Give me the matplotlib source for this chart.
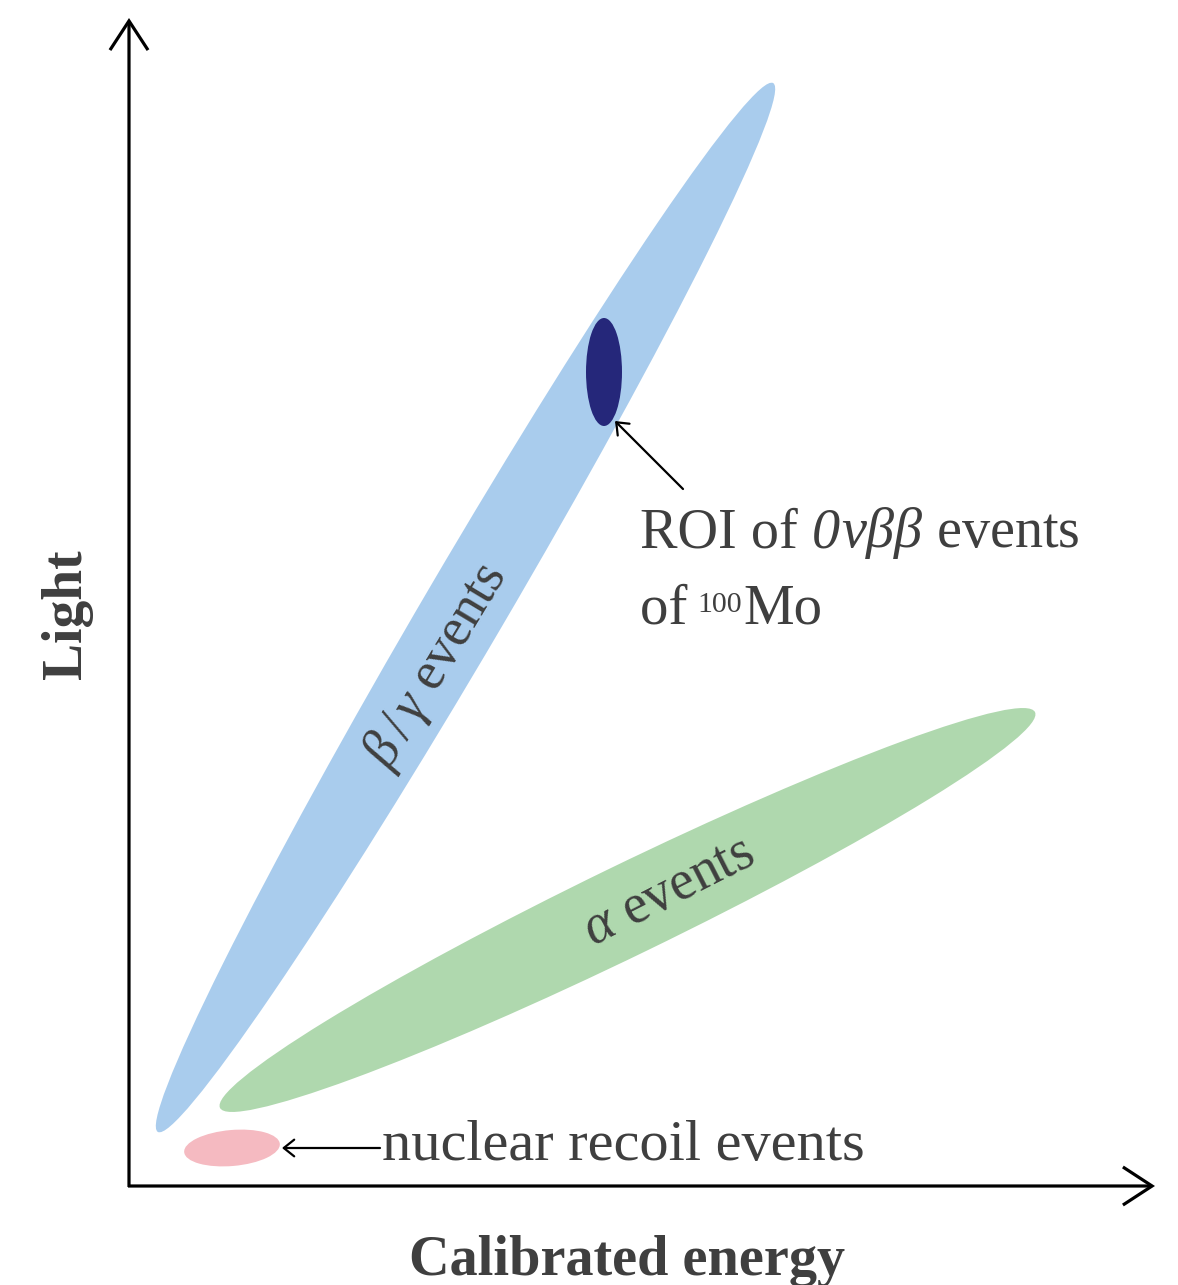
import matplotlib
matplotlib.use("Agg")
import matplotlib.pyplot as plt
from matplotlib.patches import Ellipse

plt.rcParams['font.family'] = ['Liberation Serif', 'DejaVu Serif']
plt.rcParams['mathtext.fontset'] = 'custom'
plt.rcParams['mathtext.rm'] = 'Liberation Serif'
plt.rcParams['mathtext.it'] = 'Liberation Serif:italic'
plt.rcParams['mathtext.bf'] = 'Liberation Serif:bold'
plt.rcParams['mathtext.fallback'] = 'stix'

# ---- data (energy / light units, origin at the axis corner) ----
region_names = ['beta_gamma', 'alpha', 'nuclear_recoil', 'roi']
region_energy = [336.5, 498.5, 103.0, 475.0]     # ellipse centre, x
region_light = [578.5, 276.0, 38.0, 814.0]       # ellipse centre, y
region_length = [1216.0, 906.0, 96.0, 36.0]      # extent along angle
region_thick = [82.0, 90.0, 36.0, 108.0]         # extent across
region_angle = [59.6, 25.9, 5.0, 0.0]            # degrees
region_colors = ['#a9cced', '#afd8ae', '#f5bac1', '#25277a']

x_label = 'Calibrated energy'
y_label = 'Light'
x_axis_end = 1026.0
y_axis_end = 1168.0

TEXT = '#3f3f3f'

fig = plt.figure(figsize=(11.78, 12.85), dpi=100)
ax = fig.add_axes([0, 0, 1, 1])
ax.set_xlim(-129, 1049)
ax.set_ylim(-99, 1186)
ax.axis('off')

for e, l, w, h, a, c in zip(region_energy, region_light, region_length,
                            region_thick, region_angle, region_colors):
    ax.add_patch(Ellipse((e, l), w, h, angle=a, facecolor=c,
                         edgecolor='none', lw=0, zorder=2))

# axes arrows
axis_style = dict(arrowstyle='->,head_length=21,head_width=13.7', lw=2.3,
                  color='black', mutation_scale=1, shrinkA=0, shrinkB=0,
                  joinstyle='miter', capstyle='butt')
ax.annotate('', xy=(0, y_axis_end), xytext=(0, -1), arrowprops=axis_style,
            zorder=5)
ax.annotate('', xy=(x_axis_end, 0), xytext=(-1, 0), arrowprops=axis_style,
            zorder=5)

ax.text(498, -89, x_label, ha='center', va='baseline', fontsize=40.5,
        fontweight='bold', color=TEXT)
ax.text(-62, 572, y_label, ha='center', va='center', fontsize=40,
        fontweight='bold', color=TEXT, rotation=90)

# region labels
ax.text(307, 520, r'$\beta\,/\,\gamma$ events', ha='center', va='center',
        rotation=59, rotation_mode='anchor', fontsize=39, color=TEXT, zorder=4)
ax.text(540, 294, r'$\alpha$ events', ha='center', va='center',
        rotation=27, rotation_mode='anchor', fontsize=40, color=TEXT, zorder=4)

# annotations
small_arrow = dict(arrowstyle='->,head_length=7.5,head_width=6', lw=1.6,
                   color='black', mutation_scale=1, shrinkA=0, shrinkB=0)
ax.annotate('', xy=(486, 765), xytext=(554, 697), arrowprops=small_arrow,
            zorder=5)

renderer = fig.canvas.get_renderer()
inv = ax.transData.inverted()


def after(text_artist, gap=0.0):
    bb = text_artist.get_window_extent(renderer)
    return inv.transform((bb.x1 + gap, 0))[0]


t_roi = ax.text(511, 639, 'ROI of ', ha='left', va='baseline',
                fontsize=40.5, color=TEXT)
t_zero = ax.text(after(t_roi), 639, '0', ha='left', va='baseline',
                 fontsize=40.5, style='italic', color=TEXT)
ax.text(after(t_zero, 1), 639, r'$\nu\beta\beta$ events', ha='left',
        va='baseline', fontsize=40.5, color=TEXT)

t_of = ax.text(511, 563, 'of ', ha='left', va='baseline', fontsize=41,
               color=TEXT)
t_sup = ax.text(after(t_of, -4), 574, '100', ha='left', va='baseline',
                fontsize=21.5, color=TEXT)
ax.text(after(t_sup, 1), 563, 'Mo', ha='left', va='baseline', fontsize=41,
        color=TEXT)

ax.annotate('', xy=(153, 38), xytext=(251, 38), arrowprops=small_arrow,
            zorder=5)
ax.text(253, 26, 'nuclear recoil events', ha='left', va='baseline',
        fontsize=42, color=TEXT)

fig.savefig('out.png', dpi=100, facecolor='white')
